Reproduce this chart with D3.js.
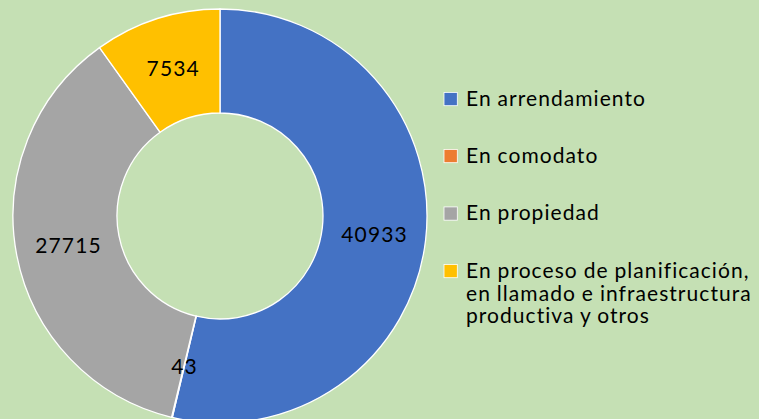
<!DOCTYPE html>
<html><head><meta charset="utf-8">
<script src="https://cdn.jsdelivr.net/npm/d3@7"></script>
<style>html,body{margin:0;padding:0;background:#C5E0B4;}svg{display:block;font-family:Lato, "Noto Sans", sans-serif;}</style>
</head><body>
<svg id="chart" width="759" height="419"></svg>
<script>
const categories = ["En arrendamiento", "En comodato", "En propiedad", "En proceso de planificación, en llamado e infraestructura productiva y otros"];
const legendLines = [["En arrendamiento"], ["En comodato"], ["En propiedad"], ["En proceso de planificación,", "en llamado e infraestructura", "productiva y otros"]];
const values = [40933, 43, 27715, 7534];
const colors = ["#4472C4", "#ED7D31", "#A5A5A5", "#FFC000"];

const svg = d3.select("#chart");
svg.append("rect").attr("width", 759).attr("height", 419).attr("fill", "#C5E0B4");
const cx = 220, cy = 216, outerR = 207, innerR = 103;
const data = categories.map((c, i) => ({cat: c, value: values[i], color: colors[i]}));
const pie = d3.pie().value(d => d.value).sort(null);
const arc = d3.arc().innerRadius(innerR).outerRadius(outerR);
const labelArc = d3.arc().innerRadius((innerR + outerR) / 2).outerRadius((innerR + outerR) / 2);
const g = svg.append("g").attr("transform", `translate(${cx},${cy})`);
const arcs = pie(data);
g.selectAll("path").data(arcs).join("path")
  .attr("d", arc).attr("fill", d => d.data.color)
  .attr("stroke", "#fff").attr("stroke-width", 1.3);
g.selectAll("text").data(arcs).join("text")
  .attr("transform", d => `translate(${labelArc.centroid(d)})`)
  .attr("text-anchor", "middle").attr("dy", "0.36em").attr("dx", 0.6)
  .attr("font-size", 21).attr("letter-spacing", 1.15).attr("fill", "#000")
  .text(d => d.data.value);

const rowY = [99, 156, 213.5, 271];
const lg = svg.append("g");
legendLines.forEach((lines, i) => {
  lg.append("rect").attr("x", 444).attr("y", rowY[i] - 6.6).attr("width", 13.3).attr("height", 13.3)
    .attr("fill", colors[i]).attr("stroke", "#fff").attr("stroke-width", 0.8);
  const t = lg.append("text").attr("y", rowY[i] + 6.8)
    .attr("font-size", 21).attr("letter-spacing", 1.05).attr("word-spacing", -0.5).attr("fill", "#000");
  lines.forEach((l, j) => t.append("tspan").attr("x", 466).attr("dy", j === 0 ? 0 : 22.8).text(l));
});
</script>
</body></html>
